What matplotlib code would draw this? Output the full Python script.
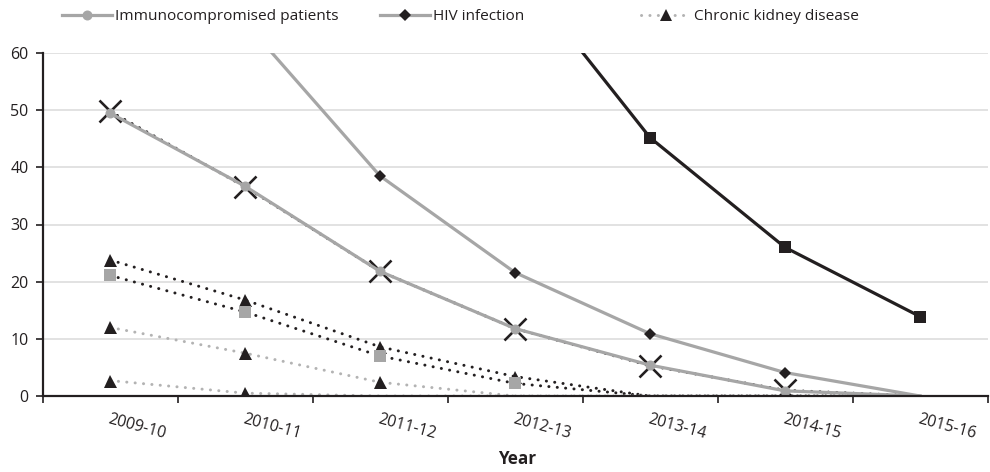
import numpy as np
import matplotlib
matplotlib.use("Agg")
import matplotlib.pyplot as plt
from matplotlib.lines import Line2D

# ---------------- data ----------------
years = ["2009-10", "2010-11", "2011-12", "2012-13", "2013-14", "2014-15", "2015-16"]
immunocompromised = [49.5, 36.7, 21.8, 11.8, 5.4, 0.9, 0.0]
cross_series = [49.8, 36.6, 21.8, 11.8, 5.3, 1.0, 0.0]
hiv_infection = [np.nan, 65.4, 38.5, 21.6, 10.9, 4.1, 0.0]
black_square_series = [np.nan, np.nan, np.nan, 75.0, 45.2, 26.0, 13.9]
ckd = [12.0, 7.5, 2.4, 0.0, 0.0, 0.0, 0.0]
ckd_low = [2.7, 0.5, 0.0, 0.0, 0.0, 0.0, 0.0]
black_triangle_series = [23.8, 16.8, 8.6, 3.4, 0.0, 0.0, 0.0]
gray_square_series = [21.1, 14.7, 7.0, 2.2, 0.0, 0.0, 0.0]
yticks = [0, 10, 20, 30, 40, 50, 60]
legend_labels = ["Immunocompromised patients", "HIV infection", "Chronic kidney disease"]

BLACK = "#231f20"
GRAY = "#a6a6a6"
LGRAY = "#b3b3b3"
PX = 0.72  # points per pixel at dpi 100
FONT = "Open Sans"

fig = plt.figure(figsize=(9.9, 4.72), dpi=100)
ax = fig.add_axes([42.5 / 990, 1 - 396 / 472, 945 / 990, 343 / 472])
renderer = fig.canvas.get_renderer()

x = np.arange(len(years))


def fit_size(text, target_px, base=10, **kw):
    t = fig.text(0, 0, text, fontsize=base, fontfamily=FONT, **kw)
    w = t.get_window_extent(renderer).width
    t.remove()
    return base * target_px / w


def draw_series(vals, color, lw, ls, marker, mfc, ms, mew=0, mec=None, z=2):
    v = np.array(vals, dtype=float)
    ok = ~np.isnan(v)
    xs, ys = x[ok], v[ok]
    ax.plot(xs, ys, color=color, lw=lw, linestyle=ls, dash_capstyle="round",
            solid_joinstyle="round", zorder=z)
    mk = ys > 0
    ax.plot(xs[mk], ys[mk], linestyle="none", marker=marker, markersize=ms,
            markerfacecolor=mfc, markeredgecolor=mec if mec else mfc,
            markeredgewidth=mew, zorder=z + 0.5)


dot = (0, (0.05, 2.75))
# black dotted lines
draw_series(cross_series, BLACK, 3 * PX, dot, "x", BLACK, 22 * PX, mew=2.6 * PX, mec=BLACK, z=2)
draw_series(black_triangle_series, BLACK, 3 * PX, dot, "^", BLACK, 13 * PX, z=2)
draw_series(gray_square_series, BLACK, 3 * PX, dot, "s", GRAY, 12 * PX, z=2)
# gray dotted lines
draw_series(ckd, LGRAY, 3 * PX, dot, "^", BLACK, 13 * PX, z=2)
draw_series(ckd_low, LGRAY, 3 * PX, dot, "^", BLACK, 13 * PX, z=2)
# solid lines
draw_series(immunocompromised, GRAY, 3.2 * PX, "-", "o", GRAY, 10 * PX, z=3)
draw_series(hiv_infection, GRAY, 3.2 * PX, "-", "D", BLACK, 9 * PX, z=3)
draw_series(black_square_series, BLACK, 3.2 * PX, "-", "s", BLACK, 12 * PX, z=3)

ax.set_xlim(-0.5, len(years) - 0.5)
ax.set_ylim(0, 60)
ax.set_yticks(yticks)
ax.set_yticklabels([str(t) for t in yticks], fontfamily=FONT, fontsize=11.5, color=BLACK)
ax.yaxis.grid(True, color="#d9d9d9", lw=1.5 * PX)
ax.set_axisbelow(True)

tick_size = fit_size(years[0], 60)
ax.set_xticks(x)
ax.set_xticklabels(years, rotation=-15, ha="left", va="top", rotation_mode="anchor",
                   fontfamily=FONT, fontsize=tick_size, color=BLACK)
ax.set_xticks(np.arange(-0.5, len(years)), minor=True)
ax.tick_params(axis="x", which="major", length=0, pad=11)
ax.tick_params(axis="x", which="minor", length=5, width=1.2, color=BLACK, direction="out")
ax.tick_params(axis="y", length=5, width=1.2, color=BLACK, pad=5)

for s in ["top", "right"]:
    ax.spines[s].set_visible(False)
for s in ["left", "bottom"]:
    ax.spines[s].set_color(BLACK)
    ax.spines[s].set_linewidth(2.2 * PX)
    ax.spines[s].set_zorder(5)

year_size = fit_size("Year", 38, fontweight="bold")
fig.text(517 / 990, 1 - 459 / 472, "Year", ha="center", va="center",
         fontfamily=FONT, fontweight="bold", fontsize=year_size, color=BLACK)

# legend (visible row)
leg_size = fit_size(legend_labels[0], 222)
handles = [
    Line2D([], [], color=GRAY, lw=3.2 * PX, marker="o", markersize=10 * PX,
           markerfacecolor=GRAY, markeredgewidth=0),
    Line2D([], [], color=GRAY, lw=3.2 * PX, marker="D", markersize=8 * PX,
           markerfacecolor=BLACK, markeredgewidth=0),
    Line2D([], [], color=LGRAY, lw=3 * PX, linestyle=dot, dash_capstyle="round",
           marker="^", markersize=12 * PX, markerfacecolor=BLACK, markeredgewidth=0),
]
handle_px = [62, 380, 641]
hl = 50 * PX / leg_size
for xpx, h, lab in zip(handle_px, handles, legend_labels):
    fig.legend(handles=[h], labels=[lab], loc="center left",
               bbox_to_anchor=(xpx / 990, 1 - 17 / 472), frameon=False,
               borderaxespad=0, borderpad=0, handlelength=hl, handletextpad=3 * PX / leg_size,
               prop={"family": FONT, "size": leg_size}, labelcolor=BLACK)

fig.savefig("out.png", dpi=100)
